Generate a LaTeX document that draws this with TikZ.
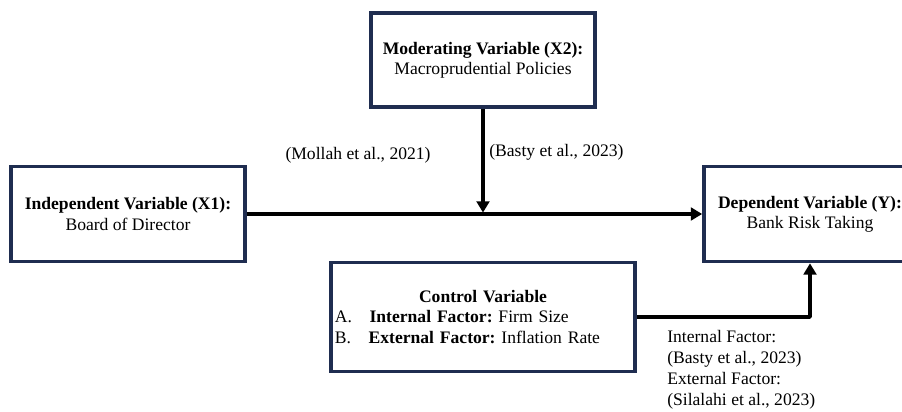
\documentclass[tikz,border=0pt]{standalone}
\usepackage{fontspec}
\setmainfont{Liberation Serif}
\usetikzlibrary{arrows.meta,positioning}
\definecolor{boxnavy}{RGB}{31,45,80}
\frenchspacing
\begin{document}
\begin{tikzpicture}[x=0.025cm,y=-0.025cm,
				var node/.style = {rectangle,draw=boxnavy,line width=2.6pt,fill=white,align=center,
					minimum height=2.375cm,inner sep=3pt,font=\fontsize{12.5}{14.3}\selectfont},
				cite/.style = {inner sep=0pt,align=left,font=\fontsize{12.5}{15}\selectfont},
				arr/.style = {line width=2.6pt,-{Triangle[length=8pt,width=9pt]}}]
				
				\useasboundingbox (0,0) rectangle (902,412);
				\clip (0,0) rectangle (902,412);
				
				\node[var node,minimum width=5.6cm,minimum height=2.35cm] (x2) at (483,60) {\textbf{Moderating Variable (X2):}\\Macroprudential Policies};
				\node[var node,minimum width=5.85cm] (x1) at (128,214) {\textbf{Independent Variable (X1):}\\Board of Director};
				\node[var node,minimum width=5.3cm] (y) at (810,214) {\textbf{Dependent Variable (Y):}\\Bank Risk Taking};
				\node[var node,minimum width=7.6cm,minimum height=2.725cm,text width=7.4cm,align=left] (ctrl) at (483,317)
					{\makebox[7.4cm][c]{\textbf{Control Variable}}\\
					A.\ \ \ \textbf{Internal Factor:} Firm Size\\
					B.\ \ \ \textbf{External Factor:} Inflation Rate};
				
				\node[cite] (c1) at (358,155) {(Mollah et al., 2021)};
				\node[cite,anchor=west] (c2) at (489,152) {(Basty et al., 2023)};
				\node[cite,anchor=north west] (c3) at (667,330) {Internal Factor:\\(Basty et al., 2023)\\External Factor:\\(Silalahi et al., 2023)};
				
				\draw[arr] (x1) -- (y);
				\draw[arr,shorten >=1pt] (x2.south) -- (x2.south |- x1.east);
				\draw[arr,line join=round] (ctrl.east) -| (y.south);
\end{tikzpicture}
\end{document}
